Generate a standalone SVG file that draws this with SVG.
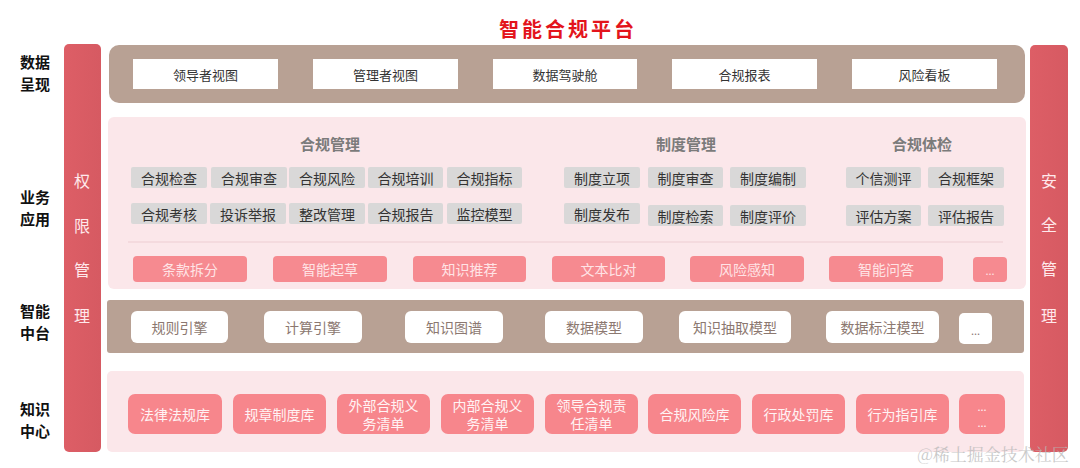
<svg xmlns="http://www.w3.org/2000/svg" width="1080" height="468" viewBox="0 0 1080 468">
<defs>
<linearGradient id="barG" x1="0" y1="0" x2="1" y2="0">
<stop offset="0" stop-color="#dd5e66"/>
<stop offset="1" stop-color="#d65a62"/>
</linearGradient>
</defs>
<style>
text{font-family:"Noto Sans CJK SC","Noto Sans",sans-serif;text-anchor:middle;dominant-baseline:central}
.title{font-size:20px;font-weight:bold;fill:#e3141c;letter-spacing:3px}
.side{font-size:15px;font-weight:bold;fill:#111}
.barT{font-size:16px;fill:#ffe9ec}
.band1{fill:#b8a194}
.pinkBand{fill:#fbe7ea}
.wbox{fill:#ffffff}
.wt{font-size:13px;fill:#333}
.sec{font-size:15px;font-weight:bold;fill:#7b7b7b}
.chip{fill:#d9d8d8}
.ct{font-size:14px;fill:#333}
.pbtn{fill:#f68a90}
.pt{font-size:14px;fill:#ffe4e6}
.mbox{fill:#ffffff}
.mt{font-size:14px;fill:#8c7870}
.kbox{fill:#f7868c}
.kt{font-size:14px;fill:#fff3f4}
.wm{font-size:17px;fill:#b8b8b8;opacity:0.75;font-family:"Noto Serif CJK SC","Noto Sans CJK SC",serif}
</style>

<text class="title" x="568" y="28">智能合规平台</text>

<g id="side-labels">
<text class="side" x="35" y="61">数据<tspan x="35" dy="22">呈现</tspan></text>
<text class="side" x="35" y="196">业务<tspan x="35" dy="22">应用</tspan></text>
<text class="side" x="35" y="310">智能<tspan x="35" dy="22">中台</tspan></text>
<text class="side" x="35" y="408">知识<tspan x="35" dy="22">中心</tspan></text>
</g>

<g id="left-bar">
<rect x="64" y="44" width="37" height="408" rx="5" fill="url(#barG)"/>
<text class="barT" x="82" y="180">权</text>
<text class="barT" x="82" y="225">限</text>
<text class="barT" x="82" y="269">管</text>
<text class="barT" x="82" y="315">理</text>
</g>

<g id="right-bar">
<rect x="1030" y="45" width="38" height="407" rx="5" fill="url(#barG)"/>
<text class="barT" x="1049" y="180">安</text>
<text class="barT" x="1049" y="224">全</text>
<text class="barT" x="1049" y="268">管</text>
<text class="barT" x="1049" y="315">理</text>
</g>

<g id="data-presentation">
<rect class="band1" x="109" y="45" width="916" height="58" rx="10"/>
<rect class="wbox" x="133" y="59" width="145" height="30"/>
<text class="wt" x="205.5" y="74">领导者视图</text>
<rect class="wbox" x="313" y="59" width="145" height="30"/>
<text class="wt" x="385.5" y="74">管理者视图</text>
<rect class="wbox" x="493" y="59" width="144" height="30"/>
<text class="wt" x="565" y="74">数据驾驶舱</text>
<rect class="wbox" x="672" y="59" width="145" height="30"/>
<text class="wt" x="744.5" y="74">合规报表</text>
<rect class="wbox" x="852" y="59" width="145" height="30"/>
<text class="wt" x="924.5" y="74">风险看板</text>
</g>

<g id="business">
<rect class="pinkBand" x="108" y="117" width="918" height="172" rx="6"/>
<text class="sec" x="330" y="143">合规管理</text>
<text class="sec" x="686" y="143">制度管理</text>
<text class="sec" x="922" y="143">合规体检</text>

<g id="compliance-mgmt">
<rect class="chip" x="131" y="167" width="76" height="21" rx="2"/><text class="ct" x="169" y="177.5">合规检查</text>
<rect class="chip" x="211" y="167" width="76" height="21" rx="2"/><text class="ct" x="249" y="177.5">合规审查</text>
<rect class="chip" x="289" y="167" width="76" height="21" rx="2"/><text class="ct" x="327" y="177.5">合规风险</text>
<rect class="chip" x="368" y="167" width="75" height="21" rx="2"/><text class="ct" x="405.5" y="177.5">合规培训</text>
<rect class="chip" x="447" y="167" width="75" height="21" rx="2"/><text class="ct" x="484.5" y="177.5">合规指标</text>
<rect class="chip" x="131" y="203" width="76" height="21" rx="2"/><text class="ct" x="169" y="213.5">合规考核</text>
<rect class="chip" x="210" y="203" width="76" height="21" rx="2"/><text class="ct" x="248" y="213.5">投诉举报</text>
<rect class="chip" x="289" y="203" width="76" height="21" rx="2"/><text class="ct" x="327" y="213.5">整改管理</text>
<rect class="chip" x="368" y="203" width="75" height="21" rx="2"/><text class="ct" x="405.5" y="213.5">合规报告</text>
<rect class="chip" x="447" y="203" width="75" height="21" rx="2"/><text class="ct" x="484.5" y="213.5">监控模型</text>
</g>

<g id="system-mgmt">
<rect class="chip" x="564" y="167" width="76" height="21" rx="2"/><text class="ct" x="602" y="177.5">制度立项</text>
<rect class="chip" x="648" y="167" width="75" height="21" rx="2"/><text class="ct" x="685.5" y="177.5">制度审查</text>
<rect class="chip" x="730" y="167" width="76" height="21" rx="2"/><text class="ct" x="768" y="177.5">制度编制</text>
<rect class="chip" x="564" y="203" width="76" height="21" rx="2"/><text class="ct" x="602" y="213.5">制度发布</text>
<rect class="chip" x="648" y="205" width="75" height="21" rx="2"/><text class="ct" x="685.5" y="215.5">制度检索</text>
<rect class="chip" x="730" y="205" width="76" height="21" rx="2"/><text class="ct" x="768" y="215.5">制度评价</text>
</g>

<g id="compliance-check">
<rect class="chip" x="846" y="167" width="75" height="21" rx="2"/><text class="ct" x="883.5" y="177.5">个信测评</text>
<rect class="chip" x="928" y="167" width="76" height="21" rx="2"/><text class="ct" x="966" y="177.5">合规框架</text>
<rect class="chip" x="846" y="205" width="75" height="21" rx="2"/><text class="ct" x="883.5" y="215.5">评估方案</text>
<rect class="chip" x="928" y="205" width="76" height="21" rx="2"/><text class="ct" x="966" y="215.5">评估报告</text>
</g>

<line x1="128" y1="242" x2="1003" y2="242" stroke="#f2d6da" stroke-width="1.5"/>

<g id="ai-tools">
<rect class="pbtn" x="133" y="256" width="114" height="26" rx="4"/><text class="pt" x="190" y="269">条款拆分</text>
<rect class="pbtn" x="273" y="256" width="114" height="26" rx="4"/><text class="pt" x="330" y="269">智能起草</text>
<rect class="pbtn" x="413" y="256" width="113" height="26" rx="4"/><text class="pt" x="469.5" y="269">知识推荐</text>
<rect class="pbtn" x="552" y="256" width="113" height="26" rx="4"/><text class="pt" x="608.5" y="269">文本比对</text>
<rect class="pbtn" x="690" y="256" width="114" height="26" rx="4"/><text class="pt" x="747" y="269">风险感知</text>
<rect class="pbtn" x="829" y="256" width="114" height="26" rx="4"/><text class="pt" x="886" y="269">智能问答</text>
<rect class="pbtn" x="973" y="257" width="34" height="25" rx="4"/><text class="pt" x="990" y="270" style="font-size:11px">...</text>
</g>
</g>

<g id="middle-platform">
<rect class="band1" x="107" y="300" width="917" height="53" rx="3"/>
<rect class="mbox" x="131" y="311" width="97" height="32" rx="6"/><text class="mt" x="179.5" y="327">规则引擎</text>
<rect class="mbox" x="264" y="311" width="98" height="32" rx="6"/><text class="mt" x="313" y="327">计算引擎</text>
<rect class="mbox" x="405" y="311" width="98" height="32" rx="6"/><text class="mt" x="454" y="327">知识图谱</text>
<rect class="mbox" x="545" y="311" width="98" height="32" rx="6"/><text class="mt" x="594" y="327">数据模型</text>
<rect class="mbox" x="679" y="311" width="112" height="32" rx="6"/><text class="mt" x="735" y="327">知识抽取模型</text>
<rect class="mbox" x="826" y="311" width="113" height="32" rx="6"/><text class="mt" x="882.5" y="327">数据标注模型</text>
<rect class="mbox" x="959" y="313" width="33" height="31" rx="5"/><text class="mt" x="975.5" y="330" style="font-size:11px">...</text>
</g>

<g id="knowledge-center">
<rect class="pinkBand" x="107" y="371" width="917" height="81" rx="5"/>
<rect class="kbox" x="128" y="394" width="94" height="40" rx="7"/><text class="kt" x="175" y="414">法律法规库</text>
<rect class="kbox" x="233" y="394" width="93" height="40" rx="7"/><text class="kt" x="279.5" y="414">规章制度库</text>
<rect class="kbox" x="337" y="394" width="93" height="40" rx="7"/><text class="kt" x="383.5" y="405">外部合规义<tspan x="383.5" dy="18">务清单</tspan></text>
<rect class="kbox" x="441" y="394" width="93" height="40" rx="7"/><text class="kt" x="487.5" y="405">内部合规义<tspan x="487.5" dy="18">务清单</tspan></text>
<rect class="kbox" x="545" y="394" width="93" height="40" rx="7"/><text class="kt" x="591.5" y="405">领导合规责<tspan x="591.5" dy="18">任清单</tspan></text>
<rect class="kbox" x="648" y="394" width="93" height="40" rx="7"/><text class="kt" x="694.5" y="414">合规风险库</text>
<rect class="kbox" x="752" y="394" width="93" height="40" rx="7"/><text class="kt" x="798.5" y="414">行政处罚库</text>
<rect class="kbox" x="856" y="394" width="93" height="40" rx="7"/><text class="kt" x="902.5" y="414">行为指引库</text>
<rect class="kbox" x="959" y="394" width="46" height="40" rx="7"/><text class="kt" x="982" y="406" style="font-size:11px">...<tspan x="982" dy="16">...</tspan></text>
</g>

<text class="wm" x="993" y="453">@稀土掘金技术社区</text>
</svg>
